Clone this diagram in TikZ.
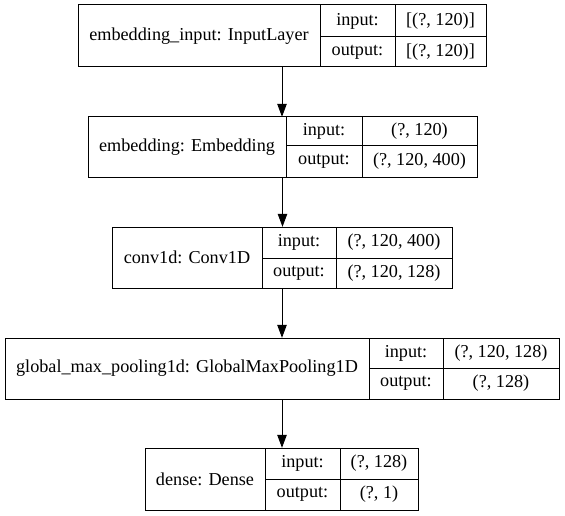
\documentclass[tikz,border=0pt]{standalone}
\usepackage{fontspec}
\setmainfont{Liberation Serif}
\usetikzlibrary{arrows.meta}
\tikzset{
  cell/.style={draw, line width=1pt, inner sep=0pt, rectangle, font=\fontsize{18.2pt}{21pt}\selectfont},
  whole/.style={inner sep=0pt, rectangle},
  arr/.style={line width=1pt, -{Triangle[length=13pt,width=9.5pt]}}
}
% #1 name, #2 x0, #3 x1, #4 x2, #5 x3, #6 y0, #7 ym, #8 y1, #9 label
\newcommand{\layerbox}[9]{%
  \node[whole, minimum width={#5-#2}, minimum height={#8-#6}] (#1) at ({(#2+#5)/2},{(#6+#8)/2}) {};
  \node[cell, minimum width={#3-#2}, minimum height={#8-#6}] (#1m) at ({(#2+#3)/2},{(#6+#8)/2}) {#9};
  \node[cell, minimum width={#4-#3}, minimum height={#7-#6}] (#1il) at ({(#3+#4)/2},{(#6+#7)/2}) {input:};
  \node[cell, minimum width={#4-#3}, minimum height={#8-#7}] (#1ol) at ({(#3+#4)/2},{(#7+#8)/2}) {output:};
}
\newcommand{\shapes}[9]{%
  \node[cell, minimum width={#5-#4}, minimum height={#7-#6}] (#1iv) at ({(#4+#5)/2},{(#6+#7)/2}) {#2};
  \node[cell, minimum width={#5-#4}, minimum height={#8-#7}] (#1ov) at ({(#4+#5)/2},{(#7+#8)/2}) {#3};
}
\begin{document}
\begin{tikzpicture}[x=1pt,y=-1pt]
\useasboundingbox (0,0) rectangle (565,516);
\fill[white] (0,0) rectangle (565,516);
\layerbox{a}{78}{320}{395}{486}{5}{37}{67}{embedding\_input: InputLayer}
\shapes{a}{[(?, 120)]}{[(?, 120)]}{395}{486}{5}{37}{67}{}
\layerbox{b}{88}{286}{362}{477}{117}{146}{177}{embedding: Embedding}
\shapes{b}{(?, 120)}{(?, 120, 400)}{362}{477}{117}{146}{177}{}
\layerbox{c}{112}{262}{336}{452}{227}{258}{288}{conv1d: Conv1D}
\shapes{c}{(?, 120, 400)}{(?, 120, 128)}{336}{452}{227}{258}{288}{}
\layerbox{d}{5}{369}{443}{559}{338}{368}{399}{global\_max\_pooling1d: GlobalMaxPooling1D}
\shapes{d}{(?, 120, 128)}{(?, 128)}{443}{559}{338}{368}{399}{}
\layerbox{e}{145}{265}{340}{418}{448}{479}{510}{dense: Dense}
\shapes{e}{(?, 128)}{(?, 1)}{340}{418}{448}{479}{510}{}
\draw[arr] (a.south) -- (a.south |- b.north);
\draw[arr] (b.south) -- (b.south |- c.north);
\draw[arr] (c.south) -- (c.south |- d.north);
\draw[arr] (d.south) -- (d.south |- e.north);
\end{tikzpicture}
\end{document}
